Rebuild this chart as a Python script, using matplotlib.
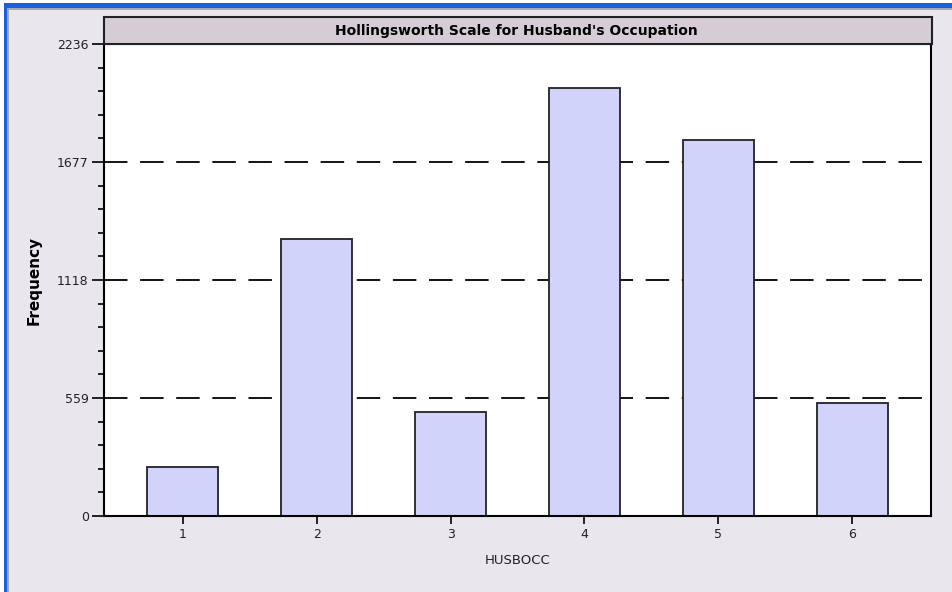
import matplotlib
matplotlib.use("Agg")
import matplotlib.pyplot as plt
from matplotlib.patches import Rectangle
from matplotlib.ticker import MultipleLocator

categories = [1, 2, 3, 4, 5, 6]
frequencies = [231, 1314, 491, 2029, 1781, 537]
y_ticks = [0, 559, 1118, 1677, 2236]
title = "Hollingsworth Scale for Husband's Occupation"

plt.rcParams["font.family"] = ["DejaVu Sans"]

bg = "#e9e6ed"
fig = plt.figure(figsize=(9.52, 5.92), dpi=100, facecolor=bg)
ax = fig.add_axes([104 / 952, 1 - 516 / 592, 827 / 952, 472 / 592])

# window frame on the left and top
fig.add_artist(Rectangle((0, 0), 4 / 952, 1, transform=fig.transFigure, color="white", lw=0))
fig.add_artist(Rectangle((4 / 952, 0), 3 / 952, 1, transform=fig.transFigure, color="#1a5fe0", lw=0))
fig.add_artist(Rectangle((7 / 952, 0), 2 / 952, 1 - 8 / 592, transform=fig.transFigure, color="#a9a9a9", lw=0))
fig.add_artist(Rectangle((0, 1 - 3 / 592), 1, 3 / 592, transform=fig.transFigure, color="white", lw=0))
fig.add_artist(Rectangle((4 / 952, 1 - 8 / 592), 1, 5 / 592, transform=fig.transFigure, color="#1a5fe0", lw=0))
fig.add_artist(Rectangle((9 / 952, 1 - 10 / 592), 1, 2 / 592, transform=fig.transFigure, color="#a9a9a9", lw=0))

ax.set_facecolor("white")
for y in y_ticks[1:-1]:
    ax.axhline(y, color="black", lw=1.3, dashes=(13, 7), zorder=1)
ax.bar(categories, frequencies, width=0.53, color="#d1d3fa", edgecolor="#222222", linewidth=1.3, zorder=2)

ax.set_xlim(0.41, 6.59)
ax.set_ylim(0, 2236)
ax.set_yticks(y_ticks)
ax.yaxis.set_minor_locator(MultipleLocator(2236 / 20))
ax.set_xticks(categories)
ax.tick_params(axis="y", which="major", length=9, width=1.2, labelsize=9, pad=2, labelcolor="#222222")
ax.tick_params(axis="y", which="minor", length=4, width=1.2)
ax.tick_params(axis="x", length=6, width=1.2, labelsize=9, pad=3, labelcolor="#222222")
for s in ax.spines.values():
    s.set_linewidth(1.5)

ax.set_ylabel("Frequency", fontsize=11, fontweight="bold", labelpad=11)
ax.set_xlabel("HUSBOCC", fontsize=9.5, labelpad=9, color="#222222")

# title box above the plot
fig.add_artist(Rectangle((104 / 952, 1 - 44 / 592), 828 / 952, 27 / 592, transform=fig.transFigure,
                         facecolor="#d6ccd6", edgecolor="#222222", lw=1.5))
fig.text(516 / 952, 1 - 31 / 592, title, ha="center", va="center", fontsize=10, fontweight="bold")

fig.savefig("out.png", dpi=100, facecolor=bg)
